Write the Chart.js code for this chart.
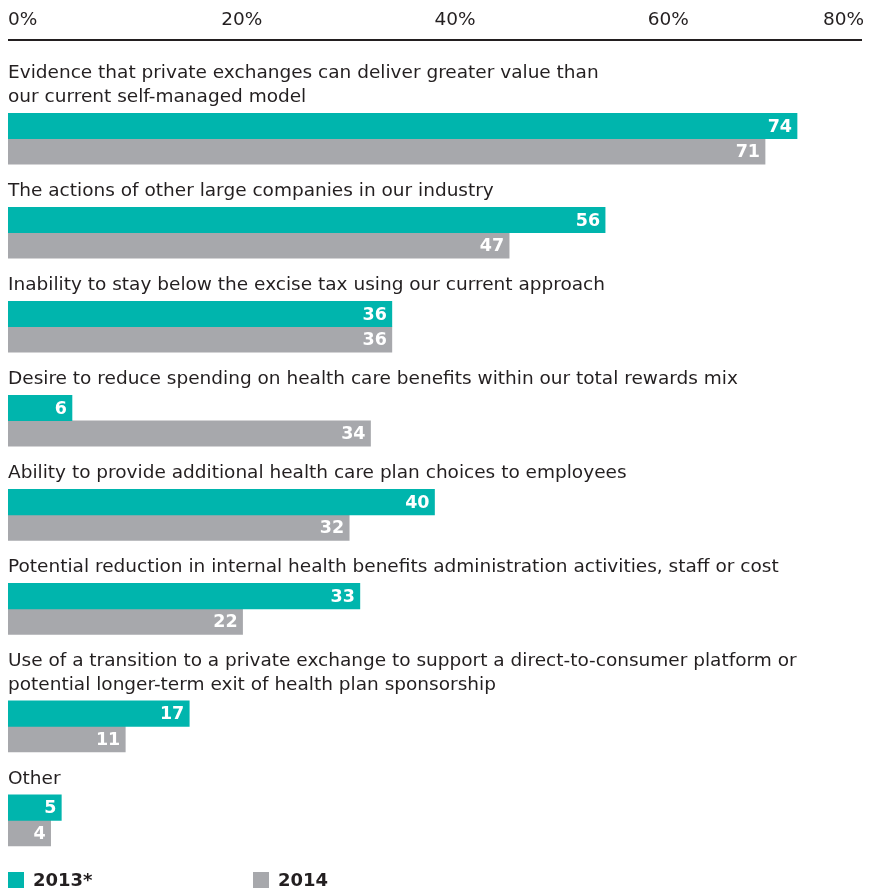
<!DOCTYPE html>
<html>
<head>
<meta charset="utf-8">
<script src="https://cdn.jsdelivr.net/npm/chart.js@4"></script>
<style>
  html, body { margin: 0; padding: 0; background: #fff; }
  #wrap { width: 877px; height: 890px; position: relative; }
</style>
</head>
<body>
<div id="wrap"><canvas id="chart"></canvas></div>
<script>
// ================= Data =================
const categories = [
  ["Evidence that private exchanges can deliver greater value than", "our current self-managed model"],
  "The actions of other large companies in our industry",
  "Inability to stay below the excise tax using our current approach",
  "Desire to reduce spending on health care benefits within our total rewards mix",
  "Ability to provide additional health care plan choices to employees",
  "Potential reduction in internal health benefits administration activities, staff or cost",
  ["Use of a transition to a private exchange to support a direct-to-consumer platform or", "potential longer-term exit of health plan sponsorship"],
  "Other"
];
const values2013 = [74, 56, 36, 6, 40, 33, 17, 5];
const values2014 = [71, 47, 36, 34, 32, 22, 11, 4];
const seriesNames = ["2013*", "2014"];
const tickValues = [0, 20, 40, 60, 80];

const TEAL = "#00b5ad";
const GREY = "#a7a8ac";
const INK = "#231f20";
const FONT = "'DejaVu Sans', sans-serif";

// each group takes (label lines + 3) rows on the y scale
const lineCounts = categories.map(c => Array.isArray(c) ? c.length : 1);
let acc = 0;
const rowPos = lineCounts.map(n => {
  const p = acc + n + 1.4;
  acc += n + 3;
  return p;
});

const toPoints = vals => vals.map((v, i) => ({ x: v, y: rowPos[i] }));

// ================= Plugins =================
const textPlugin = {
  id: "texts",
  afterDatasetsDraw(chart) {
    const ctx = chart.ctx;
    const xs = chart.scales.x;
    const area = chart.chartArea;
    ctx.save();

    // axis line
    ctx.strokeStyle = INK;
    ctx.lineWidth = 2;
    ctx.beginPath();
    ctx.moveTo(area.left, area.top);
    ctx.lineTo(area.right + 1, area.top);
    ctx.stroke();

    // tick labels above the axis line
    ctx.font = "18.5px " + FONT;
    ctx.fillStyle = INK;
    ctx.textBaseline = "middle";
    tickValues.forEach((v, i) => {
      const last = i === tickValues.length - 1;
      ctx.textAlign = last ? "right" : "left";
      let px = xs.getPixelForValue(v);
      if (last) px += 3;
      ctx.fillText(v + "%", px, 20);
    });

    // category labels above each bar pair
    const meta0 = chart.getDatasetMeta(0);
    ctx.textAlign = "left";
    categories.forEach((c, i) => {
      const lines = Array.isArray(c) ? c : [c];
      const bar = meta0.data[i];
      const top = bar.y - bar.height / 2;
      lines.forEach((ln, k) => {
        const y = top - 16 - (lines.length - 1 - k) * 24;
        ctx.fillText(ln, area.left, y);
      });
    });

    // value labels inside bar ends
    ctx.font = "bold 17.5px " + FONT;
    ctx.fillStyle = "#fff";
    ctx.textAlign = "right";
    chart.data.datasets.forEach((ds, d) => {
      chart.getDatasetMeta(d).data.forEach((bar, i) => {
        ctx.fillText(ds.data[i].x, bar.x - 5, bar.y + 1);
      });
    });

    // legend at the bottom
    const legendX = [8, 253];
    const ly = 880;
    chart.data.datasets.forEach((ds, d) => {
      ctx.fillStyle = ds.backgroundColor;
      ctx.fillRect(legendX[d], ly - 8, 16, 16);
      ctx.fillStyle = INK;
      ctx.font = "bold 18px " + FONT;
      ctx.textAlign = "left";
      ctx.fillText(ds.label, legendX[d] + 25, ly + 1);
    });

    ctx.restore();
  }
};

// ================= Chart =================
new Chart(document.getElementById("chart"), {
  type: "bar",
  data: {
    datasets: [
      { label: seriesNames[0], data: toPoints(values2013), backgroundColor: TEAL, barThickness: 25.5 },
      { label: seriesNames[1], data: toPoints(values2014), backgroundColor: GREY, barThickness: 25.5 }
    ]
  },
  options: {
    indexAxis: "y",
    responsive: true,
    maintainAspectRatio: false,
    animation: false,
    layout: { padding: { top: 40, left: 8, right: 16, bottom: 32 } },
    scales: {
      x: {
        type: "linear",
        display: false,
        min: 0,
        max: 80
      },
      y: {
        type: "linear",
        reverse: true,
        offset: false,
        min: -0.8,
        max: 34,
        display: false
      }
    },
    plugins: {
      legend: { display: false },
      tooltip: { enabled: false }
    }
  },
  plugins: [textPlugin]
});
</script>
</body>
</html>
